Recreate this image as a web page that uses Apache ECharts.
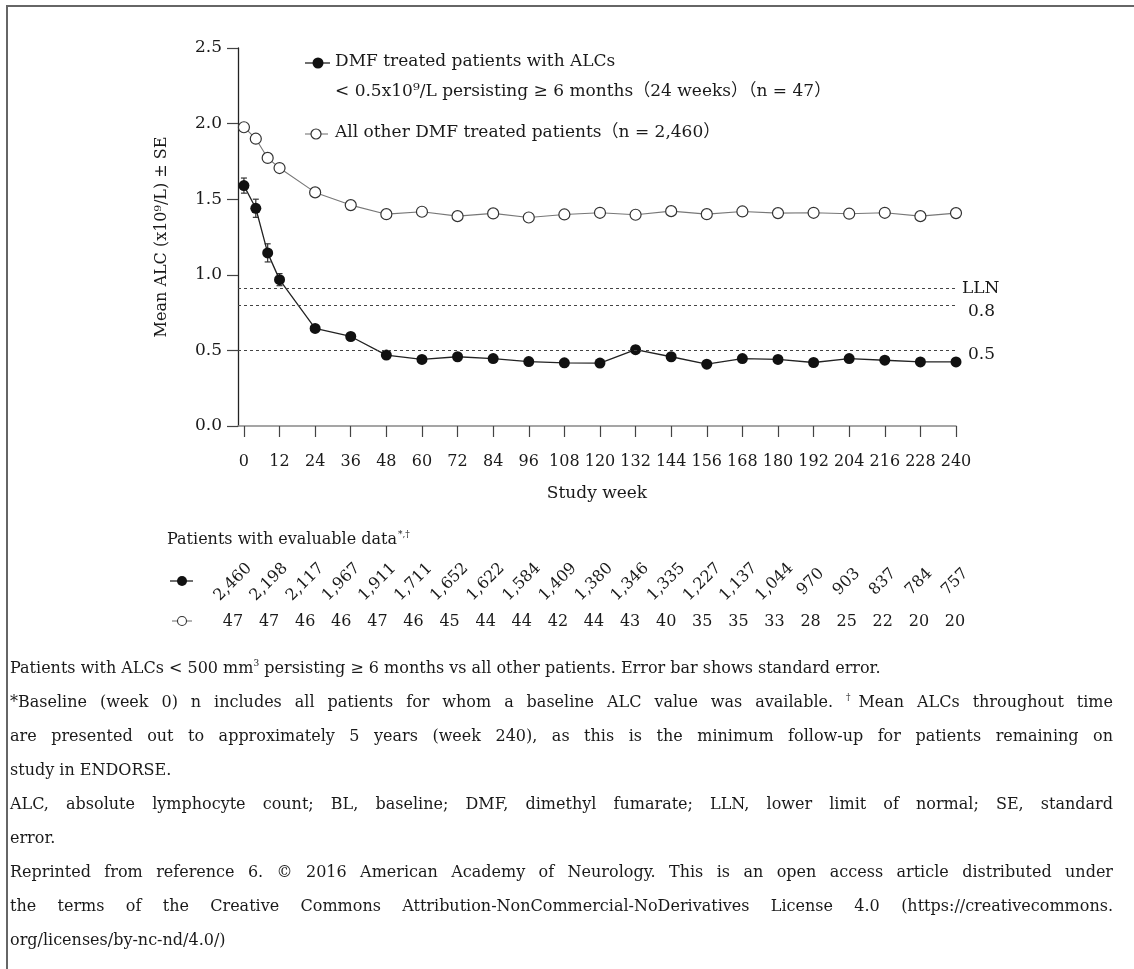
<!DOCTYPE html>
<html>
<head>
<meta charset="utf-8">
<script src="https://cdn.jsdelivr.net/npm/echarts@6/dist/echarts.min.js"></script>
<style>
  html, body { margin: 0; padding: 0; background: #fff; }
  #wrap { position: relative; width: 1134px; height: 969px; overflow: hidden; }
  #frame { position: absolute; left: 6px; top: 5px; width: 1140px; height: 980px;
           border-top: 2px solid #666; border-left: 2px solid #666; box-sizing: border-box; }
  #chart { position: absolute; left: 0; top: 0; width: 1134px; height: 969px; }
  #notes { position: absolute; left: 10px; top: 651px; width: 1103px;
           font-family: "DejaVu Serif", "Liberation Serif", serif; font-size: 16px; line-height: 34px; color: #1a1a1a; }
  #notes div { white-space: nowrap; }
  #notes div.j { text-align: justify; text-align-last: justify; white-space: normal; }
  sup { font-size: 9px; vertical-align: 7px; line-height: 0; }
</style>
</head>
<body>
<div id="wrap">
  <div id="frame"></div>
  <div id="chart"></div>
  <div id="notes">
    <div>Patients with ALCs &lt; 500 mm<sup>3</sup> persisting ≥ 6 months vs all other patients. Error bar shows standard error.</div>
    <div class="j">*Baseline (week 0) n includes all patients for whom a baseline ALC value was available. <sup>†</sup>Mean ALCs throughout time</div>
    <div class="j">are presented out to approximately 5 years (week 240), as this is the minimum follow-up for patients remaining on</div>
    <div>study in ENDORSE.</div>
    <div class="j">ALC, absolute lymphocyte count; BL, baseline; DMF, dimethyl fumarate; LLN, lower limit of normal; SE, standard</div>
    <div>error.</div>
    <div class="j">Reprinted from reference 6. © 2016 American Academy of Neurology. This is an open access article distributed under</div>
    <div class="j">the terms of the Creative Commons Attribution-NonCommercial-NoDerivatives License 4.0 (https://creativecommons.</div>
    <div>org/licenses/by-nc-nd/4.0/)</div>
  </div>
</div>
<script>
// ---------------- data ----------------
const weeks = [0, 4, 8, 12, 24, 36, 48, 60, 72, 84, 96, 108, 120, 132, 144, 156, 168, 180, 192, 204, 216, 228, 240];
const lowAlcMean = [1.59, 1.44, 1.145, 0.968, 0.645, 0.592, 0.469, 0.44, 0.458, 0.446, 0.426, 0.418, 0.416, 0.505, 0.458, 0.409, 0.446, 0.44, 0.42, 0.446, 0.435, 0.424, 0.424];
const lowAlcSE = [0.05, 0.06, 0.06, 0.04, 0.02, 0.02, 0.02, 0.02, 0.02, 0.02, 0.02, 0.02, 0.02, 0.025, 0.02, 0.02, 0.02, 0.02, 0.02, 0.02, 0.02, 0.02, 0.02];
const otherMean = [1.976, 1.90, 1.773, 1.706, 1.545, 1.461, 1.401, 1.417, 1.388, 1.406, 1.379, 1.399, 1.41, 1.397, 1.421, 1.401, 1.419, 1.408, 1.41, 1.404, 1.41, 1.388, 1.408];
const tickWeeks = [0, 12, 24, 36, 48, 60, 72, 84, 96, 108, 120, 132, 144, 156, 168, 180, 192, 204, 216, 228, 240];
const refLineValues = [0.91, 0.8, 0.5];
const refLineLabels = ['LLN', '0.8', '0.5'];
const filledRowN = [2460, 2198, 2117, 1967, 1911, 1711, 1652, 1622, 1584, 1409, 1380, 1346, 1335, 1227, 1137, 1044, 970, 903, 837, 784, 757];
const openRowN = [47, 47, 46, 46, 47, 46, 45, 44, 44, 42, 44, 43, 40, 35, 35, 33, 28, 25, 22, 20, 20];
const legendLow = ['DMF treated patients with ALCs', '< 0.5x10⁹/L persisting ≥ 6 months（24 weeks）（n = 47）'];
const legendOther = 'All other DMF treated patients（n = 2,460）';
const yAxisName = 'Mean ALC (x10⁹/L) ± SE';
const xAxisName = 'Study week';
const tableTitle = 'Patients with evaluable data';
const tableTitleSup = '*,†';

// ---------------- chart ----------------
const FONT = '"DejaVu Serif", "Liberation Serif", "Noto Sans CJK JP", serif';
const TXT = '#1a1a1a';
const chart = echarts.init(document.getElementById('chart'), null, { renderer: 'canvas' });
const fmtN = v => v.toLocaleString('en-US');

const option = {
  animation: false,
  backgroundColor: 'transparent',
  textStyle: { fontFamily: FONT },
  grid: [
    { left: 238, right: 178, top: 48, height: 378 },
    { left: 233, right: 179, top: 582, height: 40 }
  ],
  xAxis: [
    {
      gridIndex: 0, type: 'value', min: -2, max: 240,
      axisLine: { show: true, onZero: false, lineStyle: { color: '#888', width: 1.5 } },
      axisTick: { show: true, customValues: tickWeeks, length: 11, lineStyle: { color: '#444', width: 1.2 } },
      axisLabel: { customValues: tickWeeks, margin: 28, fontFamily: FONT, fontSize: 16, color: TXT },
      splitLine: { show: false },
      name: xAxisName, nameLocation: 'middle', nameGap: 59,
      nameTextStyle: { fontFamily: FONT, fontSize: 17, color: TXT }
    },
    { gridIndex: 1, type: 'value', min: 0, max: 240, show: false }
  ],
  yAxis: [
    {
      gridIndex: 0, type: 'value', min: 0, max: 2.5, interval: 0.5,
      axisLine: { show: true, onZero: false, lineStyle: { color: '#222', width: 1.3 } },
      axisTick: { show: true, length: 11, lineStyle: { color: '#444', width: 1.2 } },
      axisLabel: { margin: 16, fontFamily: FONT, fontSize: 17, color: TXT, formatter: v => v.toFixed(1) },
      splitLine: { show: false },
      name: yAxisName, nameLocation: 'middle', nameGap: 68, nameRotate: 90,
      nameTextStyle: { fontFamily: FONT, fontSize: 16, color: TXT }
    },
    { gridIndex: 1, type: 'value', min: 0, max: 1, show: false }
  ],
  series: [
    {
      name: 'ref', type: 'line', xAxisIndex: 0, yAxisIndex: 0, data: [], silent: true,
      markLine: {
        silent: true, symbol: 'none', animation: false,
        label: { show: false },
        lineStyle: { type: [3, 3], color: '#444', width: 1 },
        data: refLineValues.map(v => [{ coord: [-2, v] }, { coord: [240, v] }])
      }
    },
    {
      name: 'refLabels', type: 'scatter', xAxisIndex: 0, yAxisIndex: 0, symbolSize: 0, silent: true,
      itemStyle: { opacity: 1 },
      data: refLineValues.map((v, i) => ({
        value: [240, v],
        label: { offset: i === 0 ? [0, 0] : (i === 1 ? [6, 7] : [6, 4]) }
      })),
      label: {
        show: true, position: 'right', distance: 6, opacity: 1,
        fontFamily: FONT, fontSize: 17, color: TXT,
        formatter: p => refLineLabels[p.dataIndex]
      }
    },
    {
      name: 'errorbars', type: 'custom', xAxisIndex: 0, yAxisIndex: 0, z: 2, silent: true,
      data: weeks.map((w, i) => [w, lowAlcMean[i] - lowAlcSE[i], lowAlcMean[i] + lowAlcSE[i]]),
      renderItem: (params, api) => {
        const lo = api.coord([api.value(0), api.value(1)]);
        const hi = api.coord([api.value(0), api.value(2)]);
        const c = 3;
        const st = { stroke: '#333', lineWidth: 1.2 };
        return {
          type: 'group',
          children: [
            { type: 'line', shape: { x1: lo[0], y1: lo[1], x2: hi[0], y2: hi[1] }, style: st },
            { type: 'line', shape: { x1: hi[0] - c, y1: hi[1], x2: hi[0] + c, y2: hi[1] }, style: st },
            { type: 'line', shape: { x1: lo[0] - c, y1: lo[1], x2: lo[0] + c, y2: lo[1] }, style: st }
          ]
        };
      }
    },
    {
      name: 'other', type: 'line', xAxisIndex: 0, yAxisIndex: 0, z: 3,
      data: weeks.map((w, i) => [w, otherMean[i]]),
      symbol: 'circle', symbolSize: 11,
      lineStyle: { color: '#777', width: 1.1 },
      itemStyle: { color: '#fff', borderColor: '#333', borderWidth: 1.2 }
    },
    {
      name: 'low', type: 'line', xAxisIndex: 0, yAxisIndex: 0, z: 4,
      data: weeks.map((w, i) => [w, lowAlcMean[i]]),
      symbol: 'circle', symbolSize: 11,
      lineStyle: { color: '#222', width: 1.3 },
      itemStyle: { color: '#111', borderColor: '#111', borderWidth: 0 }
    },
    {
      name: 'tableFilled', type: 'scatter', xAxisIndex: 1, yAxisIndex: 1, symbolSize: 0, silent: true,
      itemStyle: { opacity: 1 },
      data: tickWeeks.map((w, i) => [w, 1, filledRowN[i]]),
      label: {
        show: true, position: 'inside', rotate: 45, align: 'center', verticalAlign: 'middle', opacity: 1,
        fontFamily: FONT, fontSize: 16, color: TXT, textBorderWidth: 0,
        formatter: p => fmtN(p.value[2])
      }
    },
    {
      name: 'tableOpen', type: 'scatter', xAxisIndex: 1, yAxisIndex: 1, symbolSize: 0, silent: true,
      itemStyle: { opacity: 1 },
      data: tickWeeks.map((w, i) => [w, 0, openRowN[i]]),
      label: {
        show: true, position: 'inside', align: 'center', verticalAlign: 'middle', opacity: 1,
        fontFamily: FONT, fontSize: 16, color: TXT, textBorderWidth: 0,
        formatter: p => fmtN(p.value[2])
      }
    }
  ],
  graphic: [
    // legend item 1
    { type: 'line', shape: { x1: 305, y1: 63, x2: 330, y2: 63 }, style: { stroke: '#222', lineWidth: 1.3 } },
    { type: 'circle', shape: { cx: 318, cy: 63, r: 5.5 }, style: { fill: '#111' } },
    { type: 'text', left: 335, top: 53, style: { text: legendLow[0], font: '17px ' + FONT, fill: TXT } },
    { type: 'text', left: 335, top: 83, style: { text: legendLow[1], font: '17px ' + FONT, fill: TXT } },
    // legend item 2
    { type: 'line', shape: { x1: 305, y1: 134, x2: 328, y2: 134 }, style: { stroke: '#777', lineWidth: 1.1 } },
    { type: 'circle', shape: { cx: 316, cy: 134, r: 5 }, style: { fill: '#fff', stroke: '#333', lineWidth: 1.2 } },
    { type: 'text', left: 335, top: 124, style: { text: legendOther, font: '17px ' + FONT, fill: TXT } },
    // table title
    {
      type: 'text', left: 167, top: 530,
      style: {
        text: '{m|' + tableTitle + '}{s|' + tableTitleSup + '}',
        rich: {
          m: { fontFamily: FONT, fontSize: 16, fill: TXT, lineHeight: 20 },
          s: { fontFamily: FONT, fontSize: 9, fill: TXT, lineHeight: 20, verticalAlign: 'top', padding: [0, 0, 8, 1] }
        }
      }
    },
    // table row icons
    { type: 'line', shape: { x1: 170, y1: 581, x2: 193, y2: 581 }, style: { stroke: '#222', lineWidth: 1.3 } },
    { type: 'circle', shape: { cx: 182, cy: 581, r: 5 }, style: { fill: '#111' } },
    { type: 'line', shape: { x1: 172, y1: 621, x2: 192, y2: 621 }, style: { stroke: '#777', lineWidth: 1.1 } },
    { type: 'circle', shape: { cx: 182, cy: 621, r: 4.5 }, style: { fill: '#fff', stroke: '#333', lineWidth: 1.1 } }
  ]
};
chart.setOption(option);
</script>
</body>
</html>
